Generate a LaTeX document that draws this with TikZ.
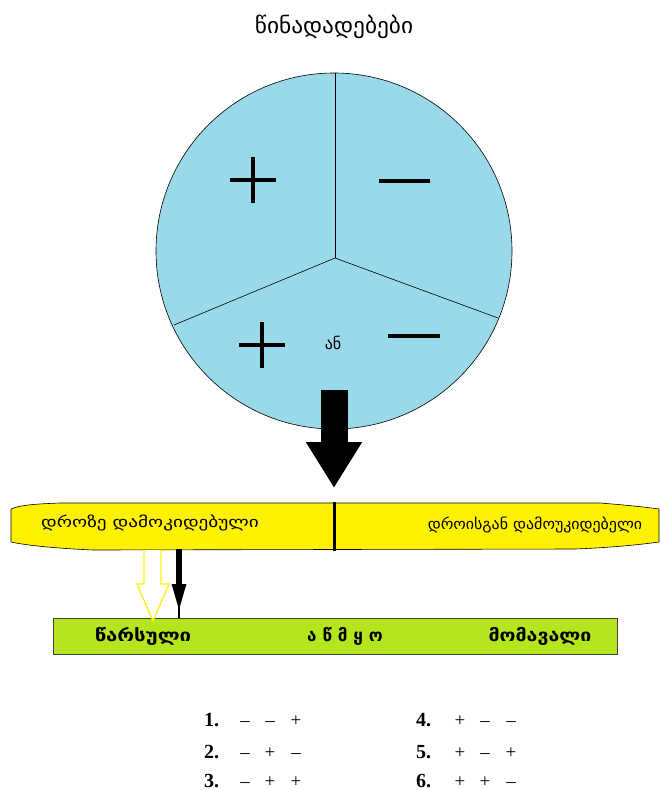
\documentclass[tikz,border=0pt]{standalone}
\usepackage{fontspec}
\usepackage{graphicx}
\setmainfont{Liberation Serif}
\newfontfamily\geo{DejaVu Sans}
\usetikzlibrary{arrows.meta}
\definecolor{cblue}{HTML}{99D9EA}
\definecolor{cyel}{HTML}{FFF200}
\definecolor{cgreen}{HTML}{B5E61D}
\newcommand{\sx}[2]{\scalebox{#1}[1]{#2}}
\begin{document}
\begin{tikzpicture}[x=1pt,y=-1pt,
  geotitle/.style={font=\geo\fontsize{22}{26}\selectfont, inner sep=0},
  geotext/.style={font=\geo\fontsize{15}{18}\selectfont, inner sep=0},
  geobold/.style={font=\geo\bfseries\fontsize{17}{20}\selectfont, inner sep=0},
  signline/.style={line width=3.6pt},
  numtext/.style={font=\bfseries\fontsize{20}{24}\selectfont, inner sep=0, anchor=base west},
  signtext/.style={font=\fontsize{19}{22}\selectfont, inner sep=0, anchor=base},
  bigarrow/.style={line width=27pt, -{Triangle[width=53pt,length=46pt]}},
  thinline/.style={line width=0.6pt}
]
\useasboundingbox (0,0) rectangle (659,790);
\fill[white] (0,0) rectangle (659,790);

% title
\node[geotitle] (title) at (334,27) {\sx{1.06}{წინადადებები}};

% circle
\node[circle, draw, thinline, fill=cblue, minimum size=356pt, inner sep=0] (circ) at (334,251) {};
\coordinate (cc) at (335,258);
\coordinate (ctop) at (335,73);
\coordinate (cleft) at (174,325);
\coordinate (cright) at (498,318);
\draw[thinline] (cc) -- (ctop);
\draw[thinline] (cc) -- (cleft);
\draw[thinline] (cc) -- (cright);

% signs in circle
\draw[signline] (230,180) -- (276,180);
\draw[signline] (253,157) -- (253,203);
\draw[signline] (379,181) -- (430,181);
\draw[signline] (239,345) -- (285,345);
\draw[signline] (262,322) -- (262,368);
\draw[signline] (388,336) -- (440,336);
\node[geotext, font=\geo\fontsize{16}{19}\selectfont] (an) at (333,343) {ან};

% yellow bar
\draw[thinline, fill=cyel] (11,509) .. controls (20,505) and (35,504) .. (60,503)
  -- (600,503) .. controls (625,505) and (645,507) .. (659,509)
  -- (659,542) .. controls (630,546) and (600,548) .. (575,549)
  -- (93,550) .. controls (50,548) and (25,545) .. (11,542) -- cycle;
\coordinate (divtop) at (334,502);
\coordinate (divbot) at (334,551);
\draw[line width=3pt] (divtop) -- (divbot);
\node[geotext] (dep) at (150,523) {\sx{1.28}{დროზე დამოკიდებული}};
\node[geotext] (indep) at (535,525) {\sx{1.06}{დროისგან დამოუკიდებელი}};

% big arrow
\coordinate (bigtop) at (334,390);
\coordinate (bigtip) at (334,488);
\draw[bigarrow] (bigtop) -- (bigtip);

% green bar
\node[draw=black!75, thinline, fill=cgreen, minimum width=564pt, minimum height=36pt, inner sep=0] (green) at (335,636) {};
\node[geobold] (past) at (143,636) {\sx{1.2}{წარსული}};
\node[geobold] (pres) at (345,636) {\sx{1.0}{ა წ მ ყ ო}};
\node[geobold] (fut) at (540,636) {\sx{1.15}{მომავალი}};

% yellow hollow arrow
\draw[cyel, line width=1.2pt, fill=white] (144,550) -- (144,584) -- (137,584) -- (153,621) -- (169,584) -- (161,584) -- (161,550);

% small black arrow
\coordinate (sbtop) at (179,549);
\coordinate (sbtip) at (179,612);
\coordinate (sbend) at (179,618);
\draw[line width=5.5pt, -{Triangle[width=13pt,length=28pt]}] (sbtop) -- (sbtip);
\draw[line width=1.5pt] (179,600) -- (sbend);

% list
\node[numtext] (n1) at (204,726) {1.};
\node[numtext] (n2) at (204,758) {2.};
\node[numtext] (n3) at (204,787) {3.};
\node[numtext] (n4) at (416,726) {4.};
\node[numtext] (n5) at (416,758) {5.};
\node[numtext] (n6) at (416,787) {6.};
\foreach \r/\y/\a/\b/\c in {1/726/--/--/+, 2/758/--/+/--, 3/787/--/+/+}{
  \node[signtext] (l\r a) at (245,\y) {\a};
  \node[signtext] (l\r b) at (270,\y) {\b};
  \node[signtext] (l\r c) at (296,\y) {\c};
}
\foreach \r/\y/\a/\b/\c in {4/726/+/--/--, 5/758/+/--/+, 6/787/+/+/--}{
  \node[signtext] (r\r a) at (460,\y) {\a};
  \node[signtext] (r\r b) at (485,\y) {\b};
  \node[signtext] (r\r c) at (511,\y) {\c};
}
\end{tikzpicture}
\end{document}
